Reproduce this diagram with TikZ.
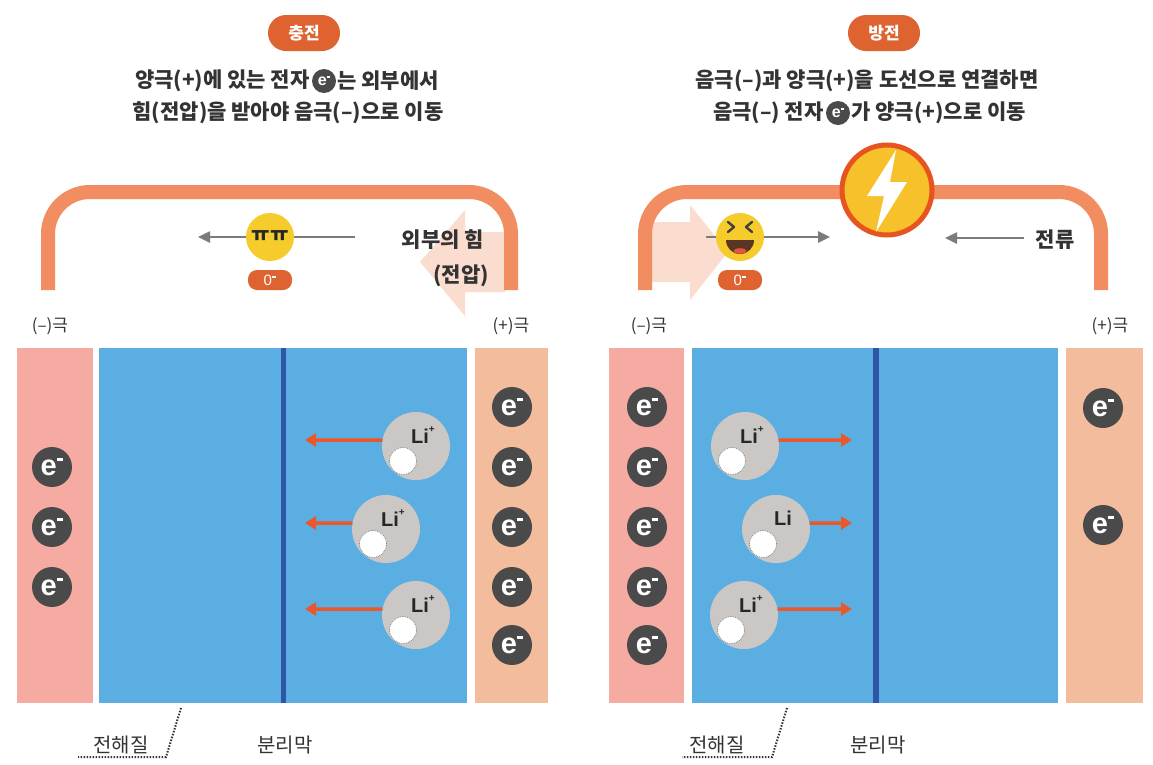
\documentclass[tikz,border=0pt]{standalone}
\usepackage{fontspec}
\setmainfont{Noto Sans CJK KR}
\newfontfamily\latn{Liberation Sans}
\usetikzlibrary{arrows.meta}

\definecolor{pillc}{HTML}{DE6331}
\definecolor{wirec}{HTML}{F28D62}
\definecolor{negc}{HTML}{F5ABA2}
\definecolor{posc}{HTML}{F3BC9D}
\definecolor{elyt}{HTML}{5BAEE2}
\definecolor{sepc}{HTML}{2F55A6}
\definecolor{egray}{HTML}{4A4A4A}
\definecolor{ionc}{HTML}{CBC7C5}
\definecolor{flowc}{HTML}{E9572B}
\definecolor{facec}{HTML}{F6CB2C}
\definecolor{palec}{HTML}{FBDDD0}
\definecolor{arrowg}{HTML}{7B7B7B}
\definecolor{txt}{HTML}{333333}
\definecolor{boltc}{HTML}{F6C12A}
\definecolor{boltrim}{HTML}{E75420}
\definecolor{mouthc}{HTML}{5A3424}
\definecolor{tonguec}{HTML}{E2553A}

% electron symbol: e with a short bar as the minus sign
\newcommand\echarge{e\raisebox{0.48em}{\rule{0.22em}{0.1em}}}
\newcommand\zcharge{0\raisebox{0.5em}{\rule{0.3em}{0.08em}}}
\newcommand\liplus{\raisebox{0.55em}{\fontsize{10}{10}\selectfont +}}

% lithium ion: grey ball, dotted white vacancy, label
\newcommand\liion[4]{%
  \node[ion] (#1) at (#2,#3) {};
  \node[hole] (#1h) at (#2-13,#3+15) {};
  \node[litext] (#1t) at (#2+7,#3-11) {Li#4};
}

\begin{document}
\begin{tikzpicture}[x=1pt,y=-1pt,
  label/.style={text=txt, inner sep=0pt, font=\bfseries\fontsize{21}{21}\selectfont},
  under/.style={text=txt, inner sep=0pt, font=\fontsize{20}{20}\selectfont},
  small/.style={text=txt, inner sep=0pt, font=\fontsize{17}{17}\selectfont},
  title/.style={fill=pillc, text=white, rounded corners=18pt, minimum width=72pt,
    minimum height=36pt, inner sep=0pt, font=\fontsize{17}{17}\selectfont\bfseries},
  tag/.style={fill=pillc, text=white, rounded corners=9pt, minimum width=44pt,
    minimum height=20pt, inner sep=0pt, font=\latn\fontsize{15}{15}\selectfont},
  electron/.style={circle, fill=egray, minimum size=40pt, inner sep=0pt, text=white,
    font=\latn\bfseries\fontsize{29}{29}\selectfont},
  einline/.style={circle, fill=egray, minimum size=24pt, inner sep=0pt, text=white,
    font=\latn\bfseries\fontsize{16}{16}\selectfont},
  ion/.style={circle, fill=ionc, minimum size=68pt, inner sep=0pt},
  hole/.style={circle, fill=white, draw=gray, densely dotted, line width=0.8pt,
    minimum size=27pt, inner sep=0pt},
  litext/.style={inner sep=0pt, font=\latn\bfseries\fontsize{20}{20}\selectfont, text=black!85},
  ionflow/.style={draw=flowc, line width=3.5pt, -{Triangle[length=11pt,width=13pt]}},
  eflow/.style={draw=arrowg, line width=2.5pt, -{Triangle[length=12pt,width=11pt]}},
  wire/.style={draw=wirec, line width=14pt, rounded corners=42pt},
  leader/.style={draw=black!80, line width=2pt, dash pattern=on 1.5pt off 1.5pt},
  face/.style={circle, fill=facec, minimum size=48pt, inner sep=0pt},
]
\useasboundingbox (0,0) rectangle (1153,764);
\fill[white] (0,0) rectangle (1153,764);

% ================= charging =================
\node[title] (chg) at (304,33) {충전};
\node[einline] (ce) at (324,81) {\echarge};
\node[label, anchor=east] (c1a) at ([xshift=-2pt]ce.west) {양극(+)에 있는 전자};
\node[label, anchor=west] (c1b) at ([xshift=1pt]ce.east) {는 외부에서};
\node[label] (c2) at (288,113) {힘(전압)을 받아야 음극(–)으로 이동};

% external force (pale arrow)
\fill[palec] (505,232) -- (465,232) -- (465,210) -- (420,262) -- (465,316)
  -- (465,292) -- (505,292) -- cycle;

% wire
\coordinate (wL1) at (48,290);
\coordinate (wL2) at (48,192);
\coordinate (wL3) at (511,192);
\coordinate (wL4) at (511,290);
\draw[wire] (wL1) -- (wL2) -- (wL3) -- (wL4);

\node[label] (force1) at (443,240) {외부의 힘};
\node[label] (force2) at (461,276) {(전압)};

% electron moving left
\coordinate (gL1) at (355,237);
\coordinate (gL2) at (198,237);
\draw[eflow] (gL1) -- (gL2);
\node[face] (sad) at (270,237) {};
\node[inner sep=0pt, text=black!85, font=\bfseries\fontsize{20}{20}\selectfont] (sadt) at (270,236) {ㅠㅠ};
\node[tag] (tagL) at (270,280) {\zcharge};

\node[small] (negL) at (50,326) {(–)극};
\node[small] (posL) at (511,326) {(+)극};

% cell
\fill[negc] (17,348) rectangle (93,703);
\fill[elyt] (99,348) rectangle (467,703);
\fill[sepc] (281,348) rectangle (286,703);
\fill[posc] (475,348) rectangle (548,703);

\foreach \y [count=\i] in {467,527,587}
  \node[electron] (eL\i) at (52,\y) {\echarge};
\foreach \y [count=\i] in {407,467,527,587,645}
  \node[electron] (eP\i) at (512,\y) {\echarge};

\liion{ionA}{416}{446}{\liplus}
\liion{ionB}{386}{529}{\liplus}
\liion{ionC}{416}{615}{\liplus}
\coordinate (tA) at (305,440);
\coordinate (tB) at (305,523);
\coordinate (tC) at (305,609);
\draw[ionflow] (ionA.170) -- (tA);
\draw[ionflow] (ionB.170) -- (tB);
\draw[ionflow] (ionC.170) -- (tC);

\node[under] (elL) at (121,745) {전해질};
\node[under] (spL) at (285,745) {분리막};
\coordinate (dA1) at (181,708);
\coordinate (dA2) at (166,757);
\coordinate (dA3) at (78,757);
\draw[leader] (dA1) -- (dA2) -- (dA3);

% ================= discharging =================
\node[title] (dis) at (884,33) {방전};
\node[label] (d1) at (867,81) {음극(–)과 양극(+)을 도선으로 연결하면};
\node[einline] (de) at (838,113) {\echarge};
\node[label, anchor=east] (d2a) at ([xshift=-2pt]de.west) {음극(–) 전자};
\node[label, anchor=west] (d2b) at ([xshift=1pt]de.east) {가 양극(+)으로 이동};

% electron push (pale arrow)
\fill[palec] (650,222) -- (690,222) -- (690,205) -- (728,252) -- (690,300)
  -- (690,282) -- (650,282) -- cycle;

\coordinate (wR1) at (645,290);
\coordinate (wR2) at (645,192);
\coordinate (wR3) at (1101,192);
\coordinate (wR4) at (1101,290);
\draw[wire] (wR1) -- (wR2) -- (wR3) -- (wR4);

% load (lightning)
\node[circle, fill=boltc, draw=boltrim, line width=5pt, minimum size=90pt] (bolt) at (887,190) {};
\fill[white] (896,150) -- (867,196) -- (884,196) -- (876,232) -- (907,182) -- (890,182) -- cycle;

% electron moving right
\coordinate (gR1) at (706,237);
\coordinate (gR2) at (830,237);
\draw[eflow] (gR1) -- (gR2);
\node[face] (happy) at (740,237) {};
\draw[line width=2.4pt, black!75, line cap=round, line join=round] (728,222) -- (734,227) -- (728,232);
\draw[line width=2.4pt, black!75, line cap=round, line join=round] (752,222) -- (746,227) -- (752,232);
\fill[mouthc] (754,240) arc[start angle=0, end angle=180, radius=14] -- cycle;
\fill[tonguec] (740,251) ellipse [x radius=6.5, y radius=2.8];
\node[tag] (tagR) at (740,280) {\zcharge};

% current
\node[label] (cur) at (1055,240) {전류};
\coordinate (cR1) at (1024,238);
\coordinate (cR2) at (945,238);
\draw[eflow] (cR1) -- (cR2);

\node[small] (negR) at (649,326) {(–)극};
\node[small] (posR) at (1110,326) {(+)극};

\fill[negc] (609,348) rectangle (684,703);
\fill[elyt] (692,348) rectangle (1058,703);
\fill[sepc] (873,348) rectangle (879,703);
\fill[posc] (1066,348) rectangle (1143,703);

\foreach \y [count=\i] in {407,467,527,587,645}
  \node[electron] (eN\i) at (647,\y) {\echarge};
\foreach \y [count=\i] in {408,525}
  \node[electron] (eQ\i) at (1103,\y) {\echarge};

\liion{ionD}{745}{446}{\liplus}
\liion{ionE}{776}{529}{}
\liion{ionF}{744}{615}{\liplus}
\coordinate (tD) at (852,440);
\coordinate (tE) at (852,523);
\coordinate (tF) at (852,609);
\draw[ionflow] (ionD.10) -- (tD);
\draw[ionflow] (ionE.10) -- (tE);
\draw[ionflow] (ionF.10) -- (tF);

\node[under] (elR) at (717,745) {전해질};
\node[under] (spR) at (878,745) {분리막};
\coordinate (dB1) at (787,708);
\coordinate (dB2) at (772,757);
\coordinate (dB3) at (682,757);
\draw[leader] (dB1) -- (dB2) -- (dB3);
\end{tikzpicture}
\end{document}
